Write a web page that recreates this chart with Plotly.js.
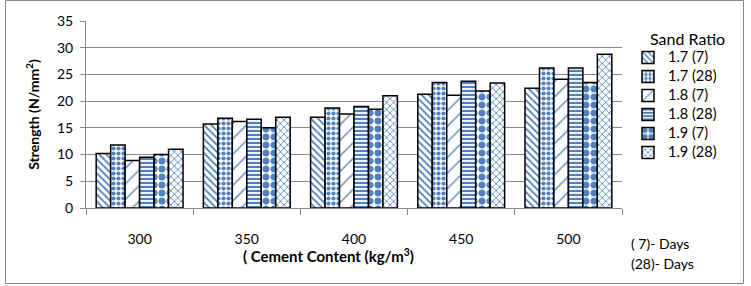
<!DOCTYPE html>
<html><head><meta charset="utf-8">
<script src="https://cdn.plot.ly/plotly-3.0.1.min.js"></script>
<style>html,body{margin:0;padding:0;background:#fff}#chart{width:751px;height:286px}</style>
</head><body><div id="chart"></div>
<script>
const categories = ['300','350','400','450','500'];
const seriesNames = ['1.7 (7)','1.7 (28)','1.8 (7)','1.8 (28)','1.9 (7)','1.9 (28)'];
const s17_7  = [10.2, 15.7, 17.0, 21.3, 22.4];
const s17_28 = [11.8, 16.8, 18.7, 23.5, 26.2];
const s18_7  = [8.9, 16.2, 17.6, 21.1, 24.1];
const s18_28 = [9.5, 16.6, 19.0, 23.7, 26.2];
const s19_7  = [10.0, 15.0, 18.5, 21.9, 23.5];
const s19_28 = [11.0, 17.0, 21.0, 23.4, 28.8];
const yTicks = [0,5,10,15,20,25,30,35];

const values = [s17_7, s17_28, s18_7, s18_28, s19_7, s19_28];
const patterns = [
  {shape:'\\', size:5, solidity:0.35},
  {shape:'.', size:5, solidity:0.55},
  {shape:'/', size:11, solidity:0.12},
  {shape:'-', size:4, solidity:0.55},
  {shape:'.', size:8, solidity:0.6},
  {shape:'x', size:5, solidity:0.3}
];
const blue = '#4F81BD';
const traces = values.map((v,i)=>({
  type:'bar', name: '<span style="font-size:14.5px">' + seriesNames[i] + '</span>', x: categories, y: v,
  marker:{color:'#ffffff', line:{color:'#000000', width:1.5},
    pattern:{shape:patterns[i].shape, size:patterns[i].size, solidity:patterns[i].solidity, fgcolor:blue, fgopacity:1, bgcolor:'#ffffff', fillmode:'overlay'}}
}));
const L=86, R=622, T=21, B=208;
const px = x => (x-L)/(R-L);
const py = y => (B-y)/(B-T);
const font = 'Lato, "Open Sans", sans-serif';
const layout = {
  width:751, height:286,
  margin:{l:L, r:751-R, t:T, b:286-B},
  paper_bgcolor:'#fff', plot_bgcolor:'#fff',
  barmode:'group', bargap:0.19, bargroupgap:0,
  font:{family:font, size:14, color:'#000'},
  showlegend:true,
  legend:{x:px(628), y:py(43), xanchor:'left', yanchor:'top',
    font:{size:12}, tracegroupgap:0, itemwidth:30, bgcolor:'rgba(0,0,0,0)'},
  xaxis:{type:'category', showgrid:false, showline:true, linecolor:'#888', linewidth:1,
    ticks:'outside', ticklen:6, tickcolor:'#888', tickson:'boundaries',
    ticklabelstandoff:18, tickfont:{size:14}},
  yaxis:{range:[0,35], tickvals:yTicks, showgrid:true, gridcolor:'#888', gridwidth:1,
    showline:true, linecolor:'#888', ticks:'outside', ticklen:5, tickcolor:'#888',
    zeroline:false, tickfont:{size:14}, ticklabelstandoff:4,
    title:{text:'<b>Strength (N/mm<sup>2</sup>)</b>', font:{size:14}, standoff:14}},
  annotations:[
    {xref:'paper', yref:'paper', x:px(687), y:py(38), text:'Sand Ratio', showarrow:false, font:{size:16}, xanchor:'center', yanchor:'middle'},
    {xref:'paper', yref:'paper', x:px(328), y:py(255), text:'<b>( Cement Content (kg/m<sup>3</sup>)</b>', showarrow:false, font:{size:15}, xanchor:'center', yanchor:'middle'},
    {xref:'paper', yref:'paper', x:px(629), y:py(243), text:'( 7)- Days', showarrow:false, font:{size:14}, xanchor:'left', yanchor:'middle'},
    {xref:'paper', yref:'paper', x:px(629), y:py(263), text:'(28)- Days', showarrow:false, font:{size:14}, xanchor:'left', yanchor:'middle'}
  ],
  shapes:[
    {type:'rect', xref:'paper', yref:'paper', x0:px(5.5), x1:px(743.5), y0:py(283.5), y1:py(0.5), line:{color:'#888', width:1}, fillcolor:'rgba(0,0,0,0)', layer:'below'}
  ]
};
Plotly.newPlot('chart', traces, layout, {displayModeBar:false, staticPlot:true});
</script></body></html>
